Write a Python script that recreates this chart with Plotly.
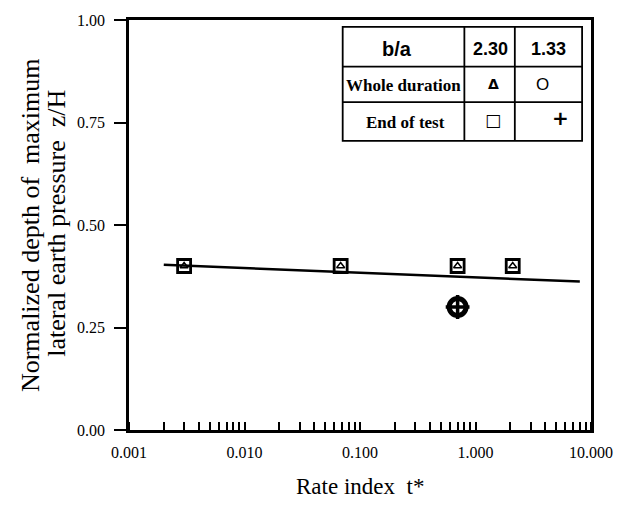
import plotly.graph_objects as go

# Data
tri_x = [0.003, 0.068, 0.70, 2.1]   # b/a=2.30 whole duration
tri_y = [0.40, 0.40, 0.40, 0.40]
sq_x = [0.003, 0.068, 0.70, 2.1]    # b/a=2.30 end of test
sq_y = [0.40, 0.40, 0.40, 0.40]
circ_x = [0.70]                     # b/a=1.33 whole duration
circ_y = [0.30]
plus_x = [0.70]                     # b/a=1.33 end of test
plus_y = [0.30]
fit_x = [0.002, 8.0]
fit_y = [0.403, 0.362]

x_tickvals = [0.001, 0.01, 0.1, 1, 10]
x_ticktext = ["0.001", "0.010", "0.100", "1.000", "10.000"]
y_tickvals = [0, 0.25, 0.5, 0.75, 1.0]
y_ticktext = ["0.00", "0.25", "0.50", "0.75", "1.00"]

SERIF = "Liberation Serif, Times New Roman, serif"
NARROW = "Liberation Sans Narrow, Arial Narrow, Liberation Sans, sans-serif"

fig = go.Figure()
fig.add_trace(go.Scatter(x=fit_x, y=fit_y, mode="lines",
                         line=dict(color="black", width=2.5), showlegend=False))
fig.add_trace(go.Scatter(x=sq_x, y=sq_y, mode="markers",
                         marker=dict(symbol="square-open", size=13, color="black",
                                     line=dict(width=2.8, color="black")), showlegend=False))
fig.add_trace(go.Scatter(x=tri_x, y=tri_y, mode="markers",
                         marker=dict(symbol="triangle-up-open", size=7, color="black",
                                     line=dict(width=1.5, color="black")), showlegend=False))
fig.add_trace(go.Scatter(x=circ_x, y=circ_y, mode="markers",
                         marker=dict(symbol="circle-open", size=17, color="black",
                                     line=dict(width=5, color="black")), showlegend=False))
fig.add_trace(go.Scatter(x=plus_x, y=plus_y, mode="markers",
                         marker=dict(symbol="cross-thin-open", size=17, color="black",
                                     line=dict(width=3.5, color="black")), showlegend=False))

fig.update_xaxes(type="log", range=[-3, 1], tickvals=x_tickvals, ticktext=x_ticktext,
                 ticks="", showgrid=False, zeroline=False, ticklabelstandoff=6,
                 showline=True, linecolor="black", linewidth=2.5, mirror=True,
                 tickfont=dict(family=SERIF, size=16, color="black"),
                 minor=dict(ticks="inside", ticklen=8, dtick="D1", tickcolor="black",
                            tickwidth=1.5, showgrid=False))
fig.update_yaxes(range=[0, 1], tickvals=y_tickvals, ticktext=y_ticktext,
                 ticks="outside", ticklen=12, tickwidth=2, tickcolor="black",
                 showgrid=False, zeroline=False, ticklabelstandoff=6,
                 showline=True, linecolor="black", linewidth=2.5, mirror=True,
                 tickfont=dict(family=SERIF, size=16, color="black"))

# Pixel -> paper helpers (plot area: x 129..596, y 16..430)
W, H = 467.0, 414.0
def px(x): return (x - 129.0) / W
def py(y): return (430.0 - y) / H

# Axis titles
fig.add_annotation(text="Rate index  t*", x=px(362), y=py(487), xref="paper", yref="paper",
                   showarrow=False, xanchor="center", yanchor="middle",
                   font=dict(family=SERIF, size=23, color="black"))
fig.add_annotation(text="Normalized depth of  maximum", x=px(29), y=py(223), xref="paper",
                   yref="paper", showarrow=False, textangle=-90, xanchor="center",
                   yanchor="middle", font=dict(family=SERIF, size=26, color="black"))
fig.add_annotation(text="lateral earth pressure  z/H", x=px(55), y=py(221), xref="paper",
                   yref="paper", showarrow=False, textangle=-90, xanchor="center",
                   yanchor="middle", font=dict(family=SERIF, size=26, color="black"))

# Table inside plot
xl, xc1, xc2, xr = 345, 468, 519, 587
yt, yr1, yr2, yb = 23, 63, 99, 138
shapes = [dict(type="rect", xref="paper", yref="paper", x0=px(xl), x1=px(xr),
               y0=py(yb), y1=py(yt), line=dict(color="black", width=1.8),
               fillcolor="white", layer="above")]
for xv in (xc1, xc2):
    shapes.append(dict(type="line", xref="paper", yref="paper", x0=px(xv), x1=px(xv),
                       y0=py(yb), y1=py(yt), line=dict(color="black", width=1.8)))
for yv in (yr1, yr2):
    shapes.append(dict(type="line", xref="paper", yref="paper", x0=px(xl), x1=px(xr),
                       y0=py(yv), y1=py(yv), line=dict(color="black", width=1.8)))
fig.update_layout(shapes=shapes)

cells = [
    ("<b>b/a</b>", 400, 45, NARROW, 20),
    ("<b>2.30</b>", 494, 45, NARROW, 18),
    ("<b>1.33</b>", 553, 45, NARROW, 18),
    ("<b>Whole duration</b>", 406, 82, SERIF, 17),
    ("<b>End of test</b>", 408, 120, SERIF, 17),
    ("<b>Δ</b>", 497, 81, "DejaVu Sans, sans-serif", 14),
    ("O", 547, 81, "Liberation Sans, sans-serif", 17),
    ("□", 497, 117, "DejaVu Sans, sans-serif", 17),
    ("<b>+</b>", 565, 115, "DejaVu Sans, sans-serif", 20),
]
for txt, cx, cy, fam, sz in cells:
    fig.add_annotation(text=txt, x=px(cx), y=py(cy), xref="paper", yref="paper",
                       showarrow=False, xanchor="center", yanchor="middle",
                       font=dict(family=fam, size=sz, color="black"))

fig.update_layout(width=625, height=508,
                  margin=dict(l=129, r=29, t=16, b=78),
                  plot_bgcolor="white", paper_bgcolor="white")

fig.write_html("out.html")
